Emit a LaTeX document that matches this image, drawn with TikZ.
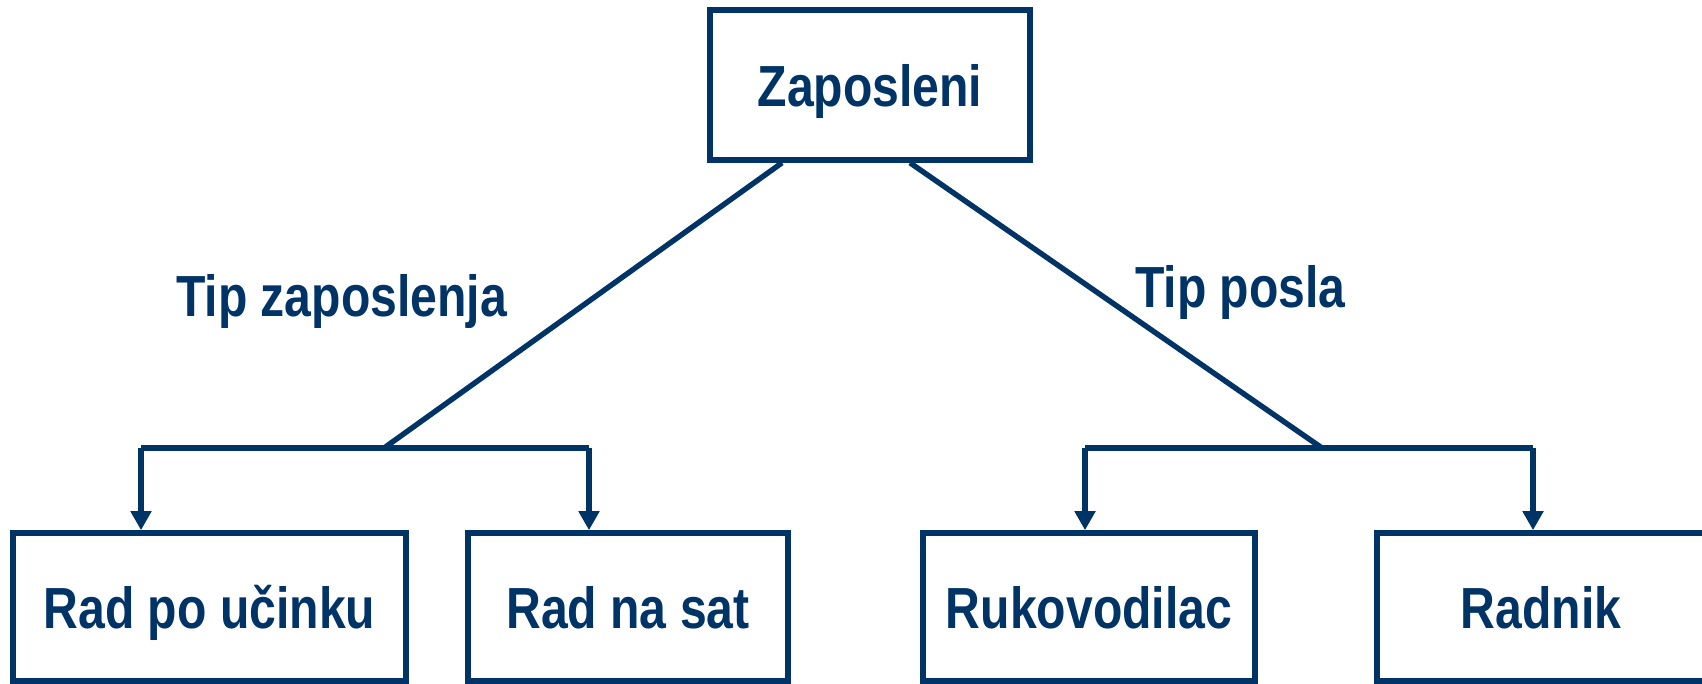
\documentclass[tikz,border=0pt]{standalone}
\usepackage{fontspec}
\newfontfamily\lblfont[FakeStretch=0.83]{Liberation Sans}
\usetikzlibrary{arrows.meta}
\definecolor{navy}{RGB}{0,51,102}
\begin{document}
\begin{tikzpicture}[x=0.5pt,y=-0.5pt,
  box/.style={draw=navy, line width=2.8pt, rectangle, inner sep=0pt, text depth=0pt,
    text=navy, font=\lblfont\bfseries\fontsize{29}{34}\selectfont},
  lbl/.style={text=navy, inner sep=0pt, anchor=base, font=\lblfont\bfseries\fontsize{29}{34}\selectfont},
  conn/.style={draw=navy, line width=2.7pt},
  arr/.style={conn, -{Triangle[length=9.5pt,width=10pt]}}]
\useasboundingbox (0,0) rectangle (1702,684);
\node[box, minimum width=160pt, minimum height=75pt] (top) at (870,85) {Zaposleni};
\node[box, minimum width=196.5pt, minimum height=74pt] (b1) at (209.5,607) {Rad po učinku};
\node[box, minimum width=160pt, minimum height=74pt] (b2) at (628,607) {Rad na sat};
\node[box, minimum width=166pt, minimum height=74pt] (b3) at (1089,607) {Rukovodilac};
\node[box, minimum width=164pt, minimum height=74pt] (b4) at (1541,607) {Radnik};
\node[lbl] (l1) at (341.5,316) {Tip zaposlenja};
\node[lbl] (l2) at (1240.5,307) {Tip posla};
\coordinate (jl) at (384,448);
\coordinate (jr) at (1322,448);
\coordinate (al) at (141,448);
\coordinate (ar) at (589,448);
\coordinate (bl) at (1085,448);
\coordinate (br) at (1533,448);
\draw[conn] ([xshift=-44pt]top.south) -- (jl);
\draw[conn] ([xshift=20pt]top.south) -- (jr);
\draw[conn] (al) -- (ar);
\draw[conn] (bl) -- (br);
\draw[arr] (al) -- (al |- b1.north);
\draw[arr] (ar) -- (ar |- b2.north);
\draw[arr] (bl) -- (bl |- b3.north);
\draw[arr] (br) -- (br |- b4.north);
\end{tikzpicture}
\end{document}
